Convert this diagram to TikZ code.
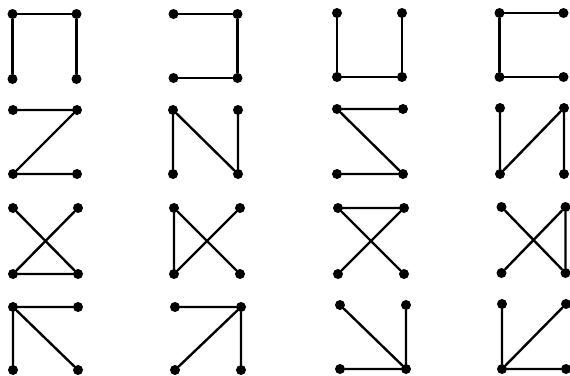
\documentclass[tikz,border=0pt]{standalone}
\tikzset{
  dot/.style={circle,fill=black,inner sep=0pt,minimum size=10pt},
  edge/.style={line width=2.4pt,line cap=round,line join=round}
}
\newcommand\fourdots[5]{%
  \node[dot] (#1tl) at (#2,#3) {};
  \node[dot] (#1tr) at (#2+#4,#3) {};
  \node[dot] (#1bl) at (#2,#3+#5) {};
  \node[dot] (#1br) at (#2+#4,#3+#5) {};
}
\begin{document}
\begin{tikzpicture}[x=1pt,y=-1pt]
\useasboundingbox (0,0) rectangle (570,375);
\fourdots{a}{12.5}{14}{64}{65}
\fourdots{b}{173.5}{14}{64}{64}
\fourdots{c}{337}{13}{65}{64}
\fourdots{d}{499.5}{13}{64}{64}
\fourdots{e}{13}{110}{64}{64}
\fourdots{f}{173}{110}{65}{64}
\fourdots{g}{337}{109}{66}{65}
\fourdots{h}{500}{108}{64}{66}
\fourdots{i}{13}{208}{65}{66}
\fourdots{j}{174}{208}{66}{66}
\fourdots{k}{338}{208}{66}{66}
\fourdots{l}{501.5}{207}{64}{66}
\fourdots{m}{13}{307}{65}{63}
\fourdots{n}{175}{307}{66}{63}
\fourdots{o}{340}{305}{66}{64}
\fourdots{p}{502}{304}{64}{65}
\draw[edge] (abl) -- (atl) -- (atr) -- (abr);
\draw[edge] (btl) -- (btr) -- (bbr) -- (bbl);
\draw[edge] (ctl) -- (cbl) -- (cbr) -- (ctr);
\draw[edge] (dtr) -- (dtl) -- (dbl) -- (dbr);
\draw[edge] (etl) -- (etr) -- (ebl) -- (ebr);
\draw[edge] (fbl) -- (ftl) -- (fbr) -- (ftr);
\draw[edge] (gtr) -- (gtl) -- (gbr) -- (gbl);
\draw[edge] (htl) -- (hbl) -- (htr) -- (hbr);
\draw[edge] (itl) -- (ibr) -- (ibl) -- (itr);
\draw[edge] (jtr) -- (jbl) -- (jtl) -- (jbr);
\draw[edge] (kbl) -- (ktr) -- (ktl) -- (kbr);
\draw[edge] (ltl) -- (lbr) -- (ltr) -- (lbl);
\draw[edge] (mtr) -- (mtl) -- (mbl) (mtl) -- (mbr);
\draw[edge] (ntl) -- (ntr) -- (nbl) (ntr) -- (nbr);
\draw[edge] (otl) -- (obr) -- (otr) (obl) -- (obr);
\draw[edge] (ptl) -- (pbl) -- (ptr) (pbl) -- (pbr);
\end{tikzpicture}
\end{document}
